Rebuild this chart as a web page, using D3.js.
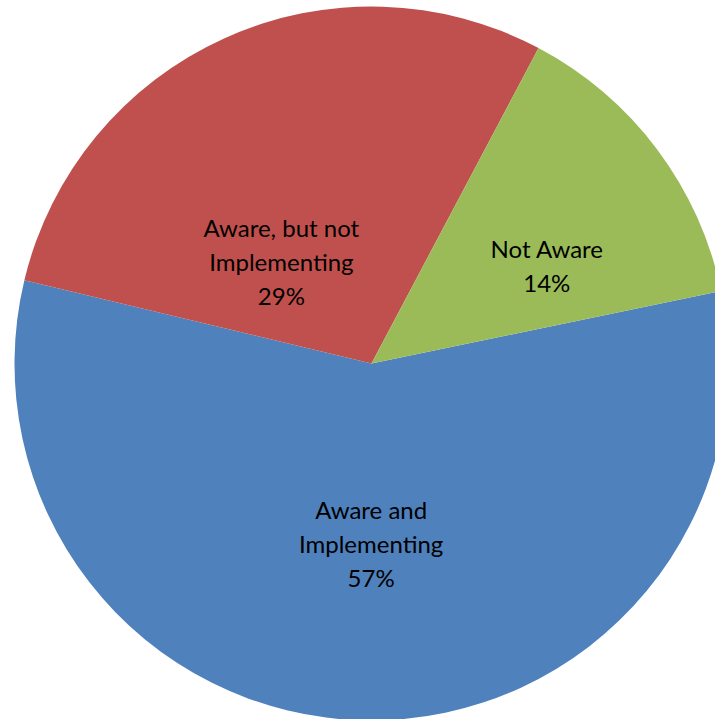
<!DOCTYPE html>
<html><head><meta charset="utf-8">
<script src="https://cdn.jsdelivr.net/npm/d3@7"></script>
<style>html,body{margin:0;padding:0;background:#fff;}</style>
</head><body>
<svg id="chart" width="715" height="719"></svg>
<script>
const categories = ["Aware and Implementing", "Aware, but not Implementing", "Not Aware"];
const values = [57, 29, 14];
const labelLines = [["Aware and", "Implementing", "57%"], ["Aware, but not", "Implementing", "29%"], ["Not Aware", "14%"]];
const colors = ["#4F81BD", "#C0504D", "#9BBB59"];

const svg = d3.select("#chart");
const cx = 371.5, cy = 363.5, r = 357;
const startDeg = 78.3;
// label nudges from the arc centroid (layout only)
const labelNudge = [[3, -33], [-2, 95], [4, 32]];

const pie = d3.pie().sort(null).value(d => d)
  .startAngle(startDeg * Math.PI / 180).endAngle((startDeg + 360) * Math.PI / 180);
const arcs = pie(values);
const arc = d3.arc().innerRadius(0).outerRadius(r);
const g = svg.append("g").attr("transform", `translate(${cx},${cy})`);
g.selectAll("path").data(arcs).join("path").attr("d", arc).attr("fill", (d, i) => colors[i]);

const labelArc = d3.arc().innerRadius(r * 0.6).outerRadius(r * 0.6);
const lineH = 34;
g.selectAll("text.lbl").data(arcs).join("text").attr("class", "lbl")
  .attr("text-anchor", "middle")
  .attr("font-family", "Lato, 'Open Sans', sans-serif")
  .attr("font-size", 24)
  .attr("fill", "#000")
  .each(function(d, i) {
    const c = labelArc.centroid(d);
    const x = c[0] + labelNudge[i][0], y = c[1] + labelNudge[i][1];
    const lines = labelLines[i];
    const t = d3.select(this);
    lines.forEach((s, k) => {
      t.append("tspan").attr("x", x)
        .attr("y", y + (k - (lines.length - 1) / 2) * lineH + 8)
        .text(s);
    });
  });
</script>
</body></html>
